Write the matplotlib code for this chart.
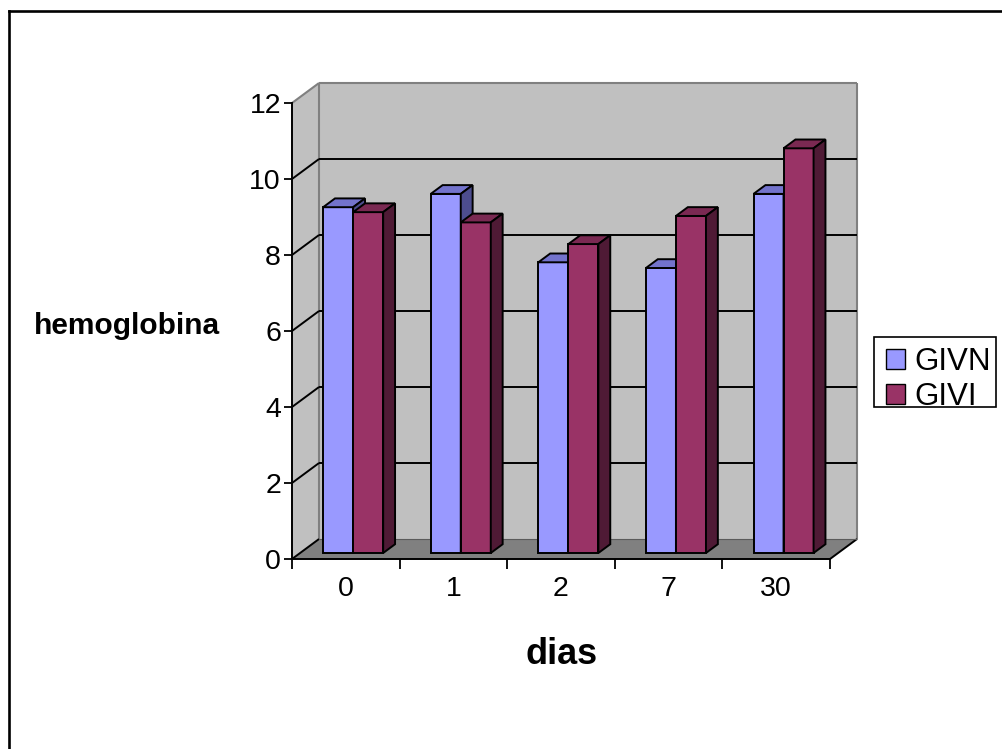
#!/usr/bin/env python3
"""Pseudo-3D clustered columns: hemoglobina por dias (GIVN vs GIVI)."""

import matplotlib as mpl
import matplotlib.pyplot as plt
from matplotlib.lines import Line2D
from matplotlib.patches import Patch, Polygon, Rectangle

mpl.rcParams.update({
    "font.family": ["Liberation Sans", "DejaVu Sans"],
    "font.size": 20,
})

# data
DAYS = ["0", "1", "2", "7", "30"]
GIVN = [9.1, 9.45, 7.65, 7.5, 9.45]
GIVI = [8.97, 8.7, 8.13, 8.87, 10.65]
Y_TICKS = [0, 2, 4, 6, 8, 10, 12]

# series styles: front, top, side
STYLE = {
    "GIVN": ("#9999FF", "#7373CC", "#4D4D8F"),
    "GIVI": ("#993366", "#7A2952", "#4F1A35"),
}
WALL = "#C0C0C0"
FLOOR = "#808080"
EDGE_GRAY = "#808080"

# oblique depth (front z=0 -> back z=1), in data units
DX, DY = 0.251, 0.526
BAR_Z0, BAR_Z1 = 0.30, 0.74
BAR_LEFT, BAR_W = 0.214, 0.279


def proj(x, y, z):
    return (x + z * DX, y + z * DY)


def poly(ax, pts, fc, ec="none", lw=0.0, z=1):
    ax.add_patch(Polygon([proj(*p) for p in pts], closed=True, fc=fc, ec=ec,
                         lw=lw, zorder=z, clip_on=False, joinstyle="miter"))


def line(ax, p0, p1, color="black", lw=1.4, z=2):
    a, b = proj(*p0), proj(*p1)
    ax.add_line(Line2D([a[0], b[0]], [a[1], b[1]], color=color, lw=lw,
                       zorder=z, clip_on=False, solid_capstyle="butt"))


def draw_bar(ax, x0, h, colors):
    front, top, side = colors
    x1 = x0 + BAR_W
    z0, z1 = BAR_Z0, BAR_Z1
    kw = dict(ec="black", lw=1.4, z=5)
    poly(ax, [(x0, 0, z0), (x1, 0, z0), (x1, h, z0), (x0, h, z0)], front, **kw)
    poly(ax, [(x0, h, z0), (x1, h, z0), (x1, h, z1), (x0, h, z1)], top, **kw)
    poly(ax, [(x1, 0, z0), (x1, 0, z1), (x1, h, z1), (x1, h, z0)], side, **kw)


fig = plt.figure(figsize=(10.03, 7.49), dpi=100)
W, H = 1003, 749
ax = fig.add_axes([292 / W, (H - 559) / H, 538 / W, 456 / H])
n = len(DAYS)
ymax = Y_TICKS[-1]
ax.set_xlim(0, n)
ax.set_ylim(0, ymax)
ax.patch.set_visible(False)

# walls and floor
poly(ax, [(0, 0, 1), (n, 0, 1), (n, ymax, 1), (0, ymax, 1)], WALL, z=0)
poly(ax, [(0, 0, 0), (0, 0, 1), (0, ymax, 1), (0, ymax, 0)], WALL, z=0)
poly(ax, [(0, 0, 0), (n, 0, 0), (n, 0, 1), (0, 0, 1)], FLOOR, z=0.5)

# gridlines on back and left walls
for v in Y_TICKS[1:-1]:
    line(ax, (0, v, 1), (n, v, 1))
    line(ax, (0, v, 0), (0, v, 1))
line(ax, (0, 0, 0), (0, 0, 1))
line(ax, (n, 0, 0), (n, 0, 1))
line(ax, (0, 0, 1), (n, 0, 1), color="#5A5A5A", lw=0.8)
# gray outer edges of the walls
for p0, p1 in [((0, ymax, 0), (0, ymax, 1)), ((0, ymax, 1), (n, ymax, 1)),
               ((n, 0, 1), (n, ymax, 1)), ((0, 0, 1), (0, ymax, 1))]:
    line(ax, p0, p1, color=EDGE_GRAY, lw=1.5, z=1.5)

for i in range(n):
    draw_bar(ax, i + BAR_LEFT, GIVN[i], STYLE["GIVN"])
    draw_bar(ax, i + BAR_LEFT + BAR_W, GIVI[i], STYLE["GIVI"])

# front axes
for side in ("top", "right"):
    ax.spines[side].set_visible(False)
for side in ("left", "bottom"):
    ax.spines[side].set_linewidth(1.4)
    ax.spines[side].set_zorder(6)
ax.set_yticks(Y_TICKS)
ax.tick_params(axis="y", direction="out", length=6, width=1.3, pad=2, labelsize=20.5)
ax.set_xticks(range(n + 1))
ax.set_xticklabels([])
ax.tick_params(axis="x", which="major", direction="out", length=7, width=1.3)
ax.set_xticks([i + 0.5 for i in range(n)], DAYS, minor=True)
ax.tick_params(axis="x", which="minor", length=0, pad=12, labelsize=20.5)

fig.text(127 / W, 1 - 326 / H, "hemoglobina", ha="center", va="center",
         fontsize=21.5, fontweight="bold")
fig.text(562 / W, 1 - 655 / H, "dias", ha="center", va="center",
         fontsize=26, fontweight="bold")

# legend: frame drawn separately so the inner padding can match
fig.add_artist(Rectangle((874 / W, 1 - 407 / H), 122 / W, 70 / H, fc="white",
                         ec="black", lw=1.2, transform=fig.transFigure))
handles = [Patch(fc=STYLE[k][0], ec="black", lw=1.0) for k in STYLE]
fig.legend(handles, list(STYLE), loc="upper left",
           bbox_to_anchor=(886 / W, 1 - 347 / H), borderaxespad=0,
           fontsize=22.5, handlelength=0.6, handleheight=0.6,
           handletextpad=0.3, borderpad=0, labelspacing=0.15, frameon=False)

# chart-area border (runs off the right and bottom of the image)
fig.add_artist(Line2D([9.5 / W, 9.5 / W], [0, 1 - 11 / H], color="black", lw=1.9,
                      transform=fig.transFigure, solid_capstyle="projecting"))
fig.add_artist(Line2D([9.5 / W, 1], [1 - 11 / H, 1 - 11 / H], color="black", lw=1.9,
                      transform=fig.transFigure, solid_capstyle="projecting"))

fig.savefig("out.png", dpi=100, facecolor="white")
